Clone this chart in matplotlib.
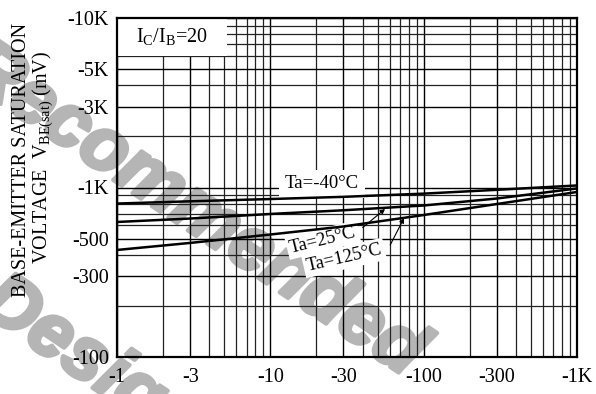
import matplotlib
matplotlib.use('Agg')
import matplotlib.pyplot as plt
import matplotlib.patheffects as pe
from matplotlib.patches import Rectangle
from matplotlib.ticker import FixedLocator, LogLocator, NullFormatter

plt.rcParams['font.family'] = ['Liberation Serif', 'DejaVu Serif']
plt.rcParams['mathtext.fontset'] = 'custom'
plt.rcParams['mathtext.rm'] = 'Liberation Serif'
plt.rcParams['mathtext.it'] = 'Liberation Serif:italic'

# collector current |Ic| (mA) and |VBE(sat)| (mV)
ic = [1, 3, 10, 30, 100, 300, 1000]
vbe_m40 = [804, 829, 855, 881, 920, 969, 1028]
vbe_25 = [626, 656, 698, 734, 783, 861, 987]
vbe_125 = [428, 471, 528, 589, 688, 799, 941]

x_ticks = [1, 3, 10, 30, 100, 300, 1000]
x_labels = ['-1', '-3', '-10', '-30', '-100', '-300', '-1K']
y_ticks = [100, 300, 500, 1000, 3000, 5000, 10000]
y_labels = ['-100', '-300', '-500', '-1K', '-3K', '-5K', '-10K']

fig = plt.figure(figsize=(5.96, 3.94), dpi=100)
ax = fig.add_axes([117 / 596, 1 - 357 / 394, 460 / 596, 339 / 394])
ax.patch.set_facecolor('none')

# watermark behind everything
gray = '#b5b5b5'
wm = dict(color=gray, fontsize=54, fontweight='bold', style='italic',
          family='Liberation Sans', rotation=-34, ha='center', va='center', zorder=-5,
          path_effects=[pe.Stroke(linewidth=6, foreground='white'),
                        pe.Stroke(linewidth=3, foreground=gray), pe.Normal()])
fig.text(194 / 596, 1 - 211 / 394, 'Recommended', **wm)
fig.text(92 / 596, 1 - 364 / 394, 'Design', **wm)

ax.plot(ic, vbe_m40, color='black', lw=1.8, zorder=3)
ax.plot(ic, vbe_25, color='black', lw=1.8, zorder=3)
ax.plot(ic, vbe_125, color='black', lw=1.8, zorder=3)

ax.set_xscale('log')
ax.set_yscale('log')
ax.set_xlim(1, 1000)
ax.set_ylim(100, 10000)

ax.xaxis.set_major_locator(FixedLocator(x_ticks))
ax.set_xticklabels(x_labels)
ax.yaxis.set_major_locator(FixedLocator(y_ticks))
ax.set_yticklabels(y_labels)
ax.xaxis.set_minor_locator(LogLocator(base=10, subs=range(1, 10)))
ax.yaxis.set_minor_locator(LogLocator(base=10, subs=range(1, 10)))
ax.xaxis.set_minor_formatter(NullFormatter())
ax.yaxis.set_minor_formatter(NullFormatter())
ax.tick_params(which='both', length=0, labelsize=14.5)
ax.tick_params(axis='x', pad=8)
ax.tick_params(axis='y', pad=6)

ax.set_axisbelow(True)
ax.grid(which='minor', color='#222222', lw=0.9)
ax.grid(which='major', color='black', lw=1.0)
for s in ax.spines.values():
    s.set_linewidth(1.6)

# condition box in the corner
ax.add_patch(Rectangle((0, 1 - 38 / 339), 110 / 460, 38 / 339, transform=ax.transAxes,
                       facecolor='white', edgecolor='none', zorder=1))
ax.text(0.12, 0.944, 'I$_\\mathrm{C}$/I$_\\mathrm{B}$=20', transform=ax.transAxes,
        ha='center', va='center', fontsize=14.5, zorder=2)

box = dict(facecolor='white', edgecolor='none', pad=2)
ax.text(21.7, 1049, 'Ta=-40°C', ha='center', va='center', fontsize=13.5,
        bbox=dict(facecolor='white', edgecolor='none', pad=4), zorder=2)
ax.text(22, 490, 'Ta=25°C', ha='center', va='center', fontsize=13.5,
        rotation=14, bbox=box, zorder=2)
ax.text(30.3, 384, 'Ta=125°C', ha='center', va='center', fontsize=13.5,
        rotation=13, bbox=box, zorder=2)
arrow = dict(arrowstyle='-|>', color='black', lw=0.8, mutation_scale=7, shrinkA=0, shrinkB=0)
ax.annotate('', xy=(56, 747), xytext=(40, 580), arrowprops=arrow, zorder=4)
ax.annotate('', xy=(74.5, 661), xytext=(60.5, 458), arrowprops=arrow, zorder=4)

fig.text(22 / 596, 1 - 160 / 394, 'BASE-EMITTER SATURATION', rotation=90,
         ha='center', va='center', fontsize=14.5)
fig.text(43 / 596, 1 - 158 / 394, 'VOLTAGE  V$_\\mathrm{BE(sat)}$ (mV)', rotation=90,
         ha='center', va='center', fontsize=14.5)

fig.savefig('out.png', dpi=100)
